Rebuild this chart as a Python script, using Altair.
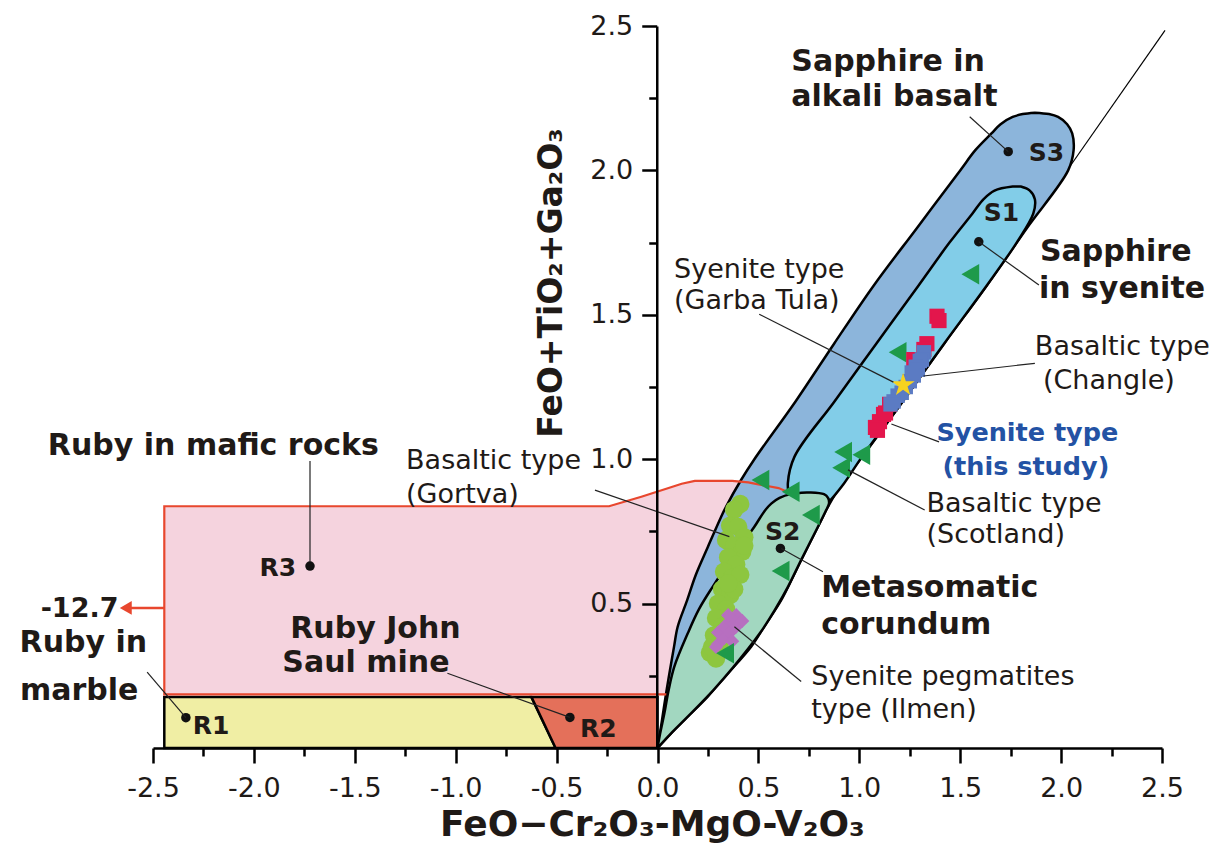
import altair as alt
import pandas as pd

# ---------------- data ----------------
x_ticks = [-2.5, -2.25, -2.0, -1.75, -1.5, -1.25, -1.0, -0.75, -0.5, -0.25, 0.0,
           0.25, 0.5, 0.75, 1.0, 1.25, 1.5, 1.75, 2.0, 2.25, 2.5]
y_ticks = [0.25, 0.5, 0.75, 1.0, 1.25, 1.5, 1.75, 2.0, 2.25, 2.5]

# thin 1:1 reference line (visible part above the S3 field)
diag_x = [2.04, 2.515]
diag_y = [2.01, 2.485]

# S3 field (sapphire in alkali basalt) - outer band
band_y = [0.0, 0.05, 0.10, 0.178, 0.25, 0.351, 0.42, 0.512, 0.60, 0.697, 0.80, 0.836, 0.928,
          1.0, 1.2, 1.4, 1.6, 1.8, 2.0, 2.07, 2.128, 2.16, 2.185, 2.195, 2.2]
band_left = [0.0, 0.012, 0.023, 0.040, 0.057, 0.082, 0.100, 0.147, 0.19, 0.25, 0.315, 0.34, 0.414,
             0.48, 0.684, 0.875, 1.07, 1.285, 1.50, 1.575, 1.655, 1.70, 1.76, 1.81, 1.87]
band_right = [0.0, 0.066, 0.137, 0.249, 0.338, 0.464, 0.528, 0.613, 0.676, 0.745, 0.819, 0.845, 0.925,
              1.005, 1.215, 1.42, 1.63, 1.83, 2.035, 2.062, 2.055, 2.03, 1.985, 1.94, 1.87]

# S1 field (sapphire in syenite)
s1_y = [0.86, 0.917, 1.009, 1.2, 1.4, 1.6, 1.75, 1.85, 1.90, 1.93, 1.944]
s1_left = [0.655, 0.646, 0.679, 0.877, 1.084, 1.292, 1.447, 1.56, 1.615, 1.67, 1.76]
s1_right = [0.86, 0.925, 1.014, 1.215, 1.42, 1.63, 1.78, 1.862, 1.87, 1.845, 1.80]

# S2 field (metasomatic corundum)
s2_y = [0.0, 0.05, 0.12, 0.20, 0.281, 0.397, 0.48, 0.559, 0.65, 0.766, 0.82, 0.847, 0.866, 0.879, 0.885]
s2_left = [0.0, 0.013, 0.034, 0.055, 0.083, 0.15, 0.205, 0.274, 0.36, 0.48, 0.53, 0.565, 0.605, 0.66, 0.74]
s2_right = [0.0, 0.066, 0.166, 0.276, 0.377, 0.507, 0.583, 0.647, 0.711, 0.795, 0.833, 0.85, 0.845, 0.825, 0.76]

# ruby in mafic rocks (pink) field
pink_x = [-2.444, -0.24, -0.08, 0.055, 0.12, 0.185, 0.37, 0.50, 0.60, 0.66]
pink_top = [0.837, 0.837, 0.87, 0.90, 0.915, 0.925, 0.925, 0.913, 0.90, 0.882]
pink_bottom = [0.186, 0.186, 0.186, 0.186, 0.20, 0.25, 0.45, 0.62, 0.75, 0.84]
red_x = [0.66, 0.60, 0.50, 0.45, 0.37, 0.185, 0.12, 0.055, -0.08, -0.24, -2.444, -2.444, 0.045]
red_y = [0.882, 0.90, 0.913, 0.92, 0.925, 0.925, 0.915, 0.90, 0.87, 0.837, 0.837, 0.186, 0.186]
arrow_x = [-2.444, -2.61]
arrow_y = [0.485, 0.485]
arrow_head_x = [-2.635]
arrow_head_y = [0.485]

# ruby in marble (yellow) and John Saul mine (R2) fields
yel_x = [-2.444, -0.625, -0.505]
yel_top = [0.177, 0.177, 0.0]
yel_bottom = [0.0, 0.0, 0.0]
r2_x = [-0.625, -0.505, 0.0]
r2_top = [0.177, 0.177, 0.177]
r2_bottom = [0.177, 0.0, 0.0]

# samples
gortva_x = [0.41, 0.38, 0.36, 0.40, 0.43, 0.34, 0.38, 0.42, 0.35, 0.39, 0.33, 0.37, 0.41,
            0.32, 0.36, 0.30, 0.34, 0.29, 0.32, 0.28, 0.31, 0.26, 0.29, 0.27, 0.38, 0.35, 0.43]
gortva_y = [0.845, 0.825, 0.77, 0.765, 0.73, 0.72, 0.70, 0.68, 0.66, 0.635, 0.61, 0.59, 0.60,
            0.55, 0.53, 0.50, 0.48, 0.45, 0.42, 0.39, 0.365, 0.33, 0.31, 0.35, 0.55, 0.57, 0.70]
ilmen_x = [0.30, 0.30, 0.33, 0.33, 0.36, 0.36, 0.39, 0.39, 0.42, 0.37, 0.29, 0.35]
ilmen_y = [0.36, 0.40, 0.38, 0.42, 0.40, 0.44, 0.42, 0.46, 0.44, 0.37, 0.35, 0.46]
scot_x = [1.55, 1.19, 0.92, 1.01, 0.91, 0.51, 0.66, 0.76, 0.61, 0.335]
scot_y = [1.64, 1.37, 1.025, 1.015, 0.97, 0.928, 0.887, 0.807, 0.613, 0.328]
changle_x = [1.385, 1.395, 1.335, 1.32, 1.27, 1.15, 1.12, 1.10, 1.08, 1.09, 1.13]
changle_y = [1.495, 1.48, 1.40, 1.38, 1.345, 1.19, 1.155, 1.13, 1.11, 1.10, 1.16]
study_x = [1.32, 1.31, 1.30, 1.28, 1.29, 1.27, 1.26, 1.25, 1.23, 1.21, 1.19, 1.17, 1.155]
study_y = [1.37, 1.345, 1.34, 1.32, 1.31, 1.29, 1.30, 1.27, 1.25, 1.23, 1.22, 1.20, 1.19]
garba_x = [1.217]
garba_y = [1.257]

# field centre dots
dot_x = [1.738, 1.592, 0.609, -2.337, -0.434, -1.722]
dot_y = [2.065, 1.753, 0.691, 0.105, 0.106, 0.630]

# leader lines
lead_x1 = [1.547, 1.89, 0.504, 1.87, 1.395, 1.324, 0.820, 0.712, -0.31, -1.722, -2.529, -1.041]
lead_y1 = [2.186, 1.603, 1.502, 1.332, 1.060, 0.824, 0.610, 0.230, 0.893, 0.994, 0.263, 0.259]
lead_x2 = [1.738, 1.592, 1.169, 1.318, 1.159, 0.944, 0.613, 0.381, 0.356, -1.722, -2.337, -0.434]
lead_y2 = [2.065, 1.753, 1.267, 1.288, 1.122, 0.963, 0.691, 0.420, 0.732, 0.644, 0.105, 0.106]

# labels
big_text = ["Sapphire in", "alkali basalt", "Sapphire", "in syenite", "Metasomatic", "corundum",
            "Ruby in mafic rocks", "Ruby John", "Saul mine", "Ruby in", "marble"]
big_x = [0.663, 0.663, 1.895, 1.89, 0.811, 0.811, -3.021, -1.820, -1.859, -3.161, -3.159]
big_y = [2.375, 2.254, 1.717, 1.589, 0.554, 0.426, 1.046, 0.413, 0.294, 0.364, 0.197]

reg_text = ["Syenite type", "(Garba Tula)", "Basaltic type", "(Changle)", "Basaltic type",
            "(Scotland)", "Syenite pegmatites", "type (Ilmen)", "Basaltic type", "(Gortva)"]
reg_x = [0.082, 0.082, 1.87, 1.91, 1.333, 1.333, 0.762, 0.762, -1.246, -1.246]
reg_y = [1.655, 1.548, 1.389, 1.271, 0.845, 0.738, 0.246, 0.132, 0.994, 0.876]

blue_text = ["Syenite type", "(this study)"]
blue_x = [1.382, 1.412]
blue_y = [1.091, 0.974]

tag_text = ["S3", "S1", "S2", "R1", "R2", "R3"]
tag_x = [1.928, 1.705, 0.621, -2.212, -0.293, -1.881]
tag_y = [2.061, 1.853, 0.749, 0.077, 0.067, 0.623]

arrow_text = ["-12.7"]
arrow_text_x = [-2.671]
arrow_text_y = [0.480]

x_title = ["FeO\u2212Cr\u2082O\u2083-MgO-V\u2082O\u2083"]
x_title_x = [-0.025]
x_title_y = [-0.303]
y_title = ["FeO+TiO\u2082+Ga\u2082O\u2083"]
y_title_x = [-0.474]
y_title_y = [1.610]

# ---------------- chart ----------------
FONT = "DejaVu Sans"
INK = "#1f1a17"
XS = alt.Scale(domain=[-2.5, 2.5], nice=False, zero=False)
YS = alt.Scale(domain=[0, 2.5], nice=False, zero=False)

minor = "datum.value % 0.5 != 0"
tick_size = {"condition": {"test": minor, "value": 8}, "value": 15}
lab_expr = ("datum.value % 0.5 != 0 ? '' : (datum.value < 0 ? '-' : '') + "
            "format(abs(datum.value), '.1f')")
common_axis = dict(title="", grid=False, tickSize=tick_size, tickWidth=2.5, tickColor="black",
                   domainColor="black", domainWidth=2.5, labelExpr=lab_expr, labelFont=FONT,
                   labelFontSize=27, labelColor=INK, labelFlush=False, labelOverlap=False,
                   zindex=1)
x_axis = alt.Axis(values=x_ticks, orient="bottom", labelPadding=12, **common_axis)
y_axis = alt.Axis(values=y_ticks, orient="left", offset=-503.75, labelPadding=9, **common_axis)


def X(f):
    return alt.X(f, type="quantitative", scale=XS, axis=x_axis)


def Y(f):
    return alt.Y(f, type="quantitative", scale=YS, axis=y_axis)


base = alt.Chart(pd.DataFrame({"x": diag_x, "y": diag_y})).mark_line(
    color="black", strokeWidth=1.2).encode(x=X("x"), y=Y("y"))

pink = alt.Chart(pd.DataFrame({"x": pink_x, "y": pink_top, "y2": pink_bottom})).mark_area(
    color="#f5d3de", interpolate="linear").encode(x=X("x"), y=Y("y"), y2=alt.Y2("y2"))

yellow = alt.Chart(pd.DataFrame({"x": yel_x, "y": yel_top, "y2": yel_bottom})).mark_area(
    fill="#f0eea4", stroke="black", strokeWidth=2.5, interpolate="linear").encode(
    x=X("x"), y=Y("y"), y2=alt.Y2("y2"))

r2 = alt.Chart(pd.DataFrame({"x": r2_x, "y": r2_top, "y2": r2_bottom})).mark_area(
    fill="#e4705a", stroke="black", strokeWidth=2.5, interpolate="linear").encode(
    x=X("x"), y=Y("y"), y2=alt.Y2("y2"))


def hband(ys, ls, rs, fill):
    d = pd.DataFrame({"y": ys, "x": rs, "x2": ls})
    return alt.Chart(d).mark_area(orient="horizontal", interpolate="catmull-rom", fill=fill,
                                  stroke="black", strokeWidth=2.5, strokeJoin="round").encode(
        y=Y("y"), x=X("x"), x2=alt.X2("x2"))


s3 = hband(band_y, band_left, band_right, "#8cb5db")
s1 = hband(s1_y, s1_left, s1_right, "#82cde8")
s2 = hband(s2_y, s2_left, s2_right, "#a2d7c0")

red_line = alt.Chart(pd.DataFrame({"x": red_x, "y": red_y, "i": list(range(len(red_x)))})).mark_line(
    color="#e8472e", strokeWidth=2.2).encode(x=X("x"), y=Y("y"), order="i:Q")
arrow = alt.Chart(pd.DataFrame({"x": arrow_x, "y": arrow_y})).mark_line(
    color="#e8472e", strokeWidth=2.5).encode(x=X("x"), y=Y("y"))
arrow_head = alt.Chart(pd.DataFrame({"x": arrow_head_x, "y": arrow_head_y})).mark_point(
    shape="triangle-left", filled=True, size=190, color="#e8472e", opacity=1).encode(
    x=X("x"), y=Y("y"))


def pts(xs, ys, shape, size, color):
    return alt.Chart(pd.DataFrame({"x": xs, "y": ys})).mark_point(
        shape=shape, filled=True, size=size, color=color, opacity=1).encode(x=X("x"), y=Y("y"))


star_path = ("M0,-1L0.2245,-0.309L0.951,-0.309L0.363,0.118L0.588,0.809L0,0.382"
             "L-0.588,0.809L-0.363,0.118L-0.951,-0.309L-0.2245,-0.309Z")
gortva = pts(gortva_x, gortva_y, "circle", 340, "#8dc63f")
ilmen = pts(ilmen_x, ilmen_y, "diamond", 200, "#b76fc0")
scot = pts(scot_x, scot_y, "triangle-left", 420, "#1e9a4a")
changle = pts(changle_x, changle_y, "square", 230, "#e3164c")
study = pts(study_x, study_y, "square", 210, "#5b7bc3")
garba = pts(garba_x, garba_y, star_path, 600, "#f6d21f")
dots = pts(dot_x, dot_y, "circle", 90, "#111111")

leaders = alt.Chart(pd.DataFrame({"x": lead_x1, "y": lead_y1, "x2": lead_x2, "y2": lead_y2})).mark_rule(
    color="#222222", strokeWidth=1.2).encode(x=X("x"), y=Y("y"), x2=alt.X2("x2"), y2=alt.Y2("y2"))


def texts(ts, xs, ys, size, weight, color=INK, align="left", baseline="middle", angle=0):
    return alt.Chart(pd.DataFrame({"t": ts, "x": xs, "y": ys})).mark_text(
        font=FONT, fontSize=size, fontWeight=weight, color=color, align=align,
        baseline=baseline, angle=angle).encode(x=X("x"), y=Y("y"), text="t:N")


big = texts(big_text, big_x, big_y, 30, "bold")
reg = texts(reg_text, reg_x, reg_y, 27, "normal")
blue = texts(blue_text, blue_x, blue_y, 25.5, "bold", color="#2352a4")
tags = texts(tag_text, tag_x, tag_y, 25, "bold", align="center")
arrow_lab = texts(arrow_text, arrow_text_x, arrow_text_y, 27, "bold", align="right")
xt = texts(x_title, x_title_x, x_title_y, 36, "bold", align="center", baseline="alphabetic")
yt = texts(y_title, y_title_x, y_title_y, 33, "bold", align="center", baseline="alphabetic", angle=270)

chart = alt.layer(
    base, pink, yellow, r2, s3, s1, red_line, s2, arrow, arrow_head,
    gortva, ilmen, scot, changle, study, garba, dots, leaders,
    big, reg, blue, tags, arrow_lab, xt, yt
).properties(
    width=1009, height=722,
    autosize=alt.AutoSizeParams(type="none"),
    padding={"left": 145, "top": 18, "right": 48, "bottom": 96},
).configure_view(strokeOpacity=0)

chart.save("out.html", embed_options={"renderer": "svg", "actions": False})
